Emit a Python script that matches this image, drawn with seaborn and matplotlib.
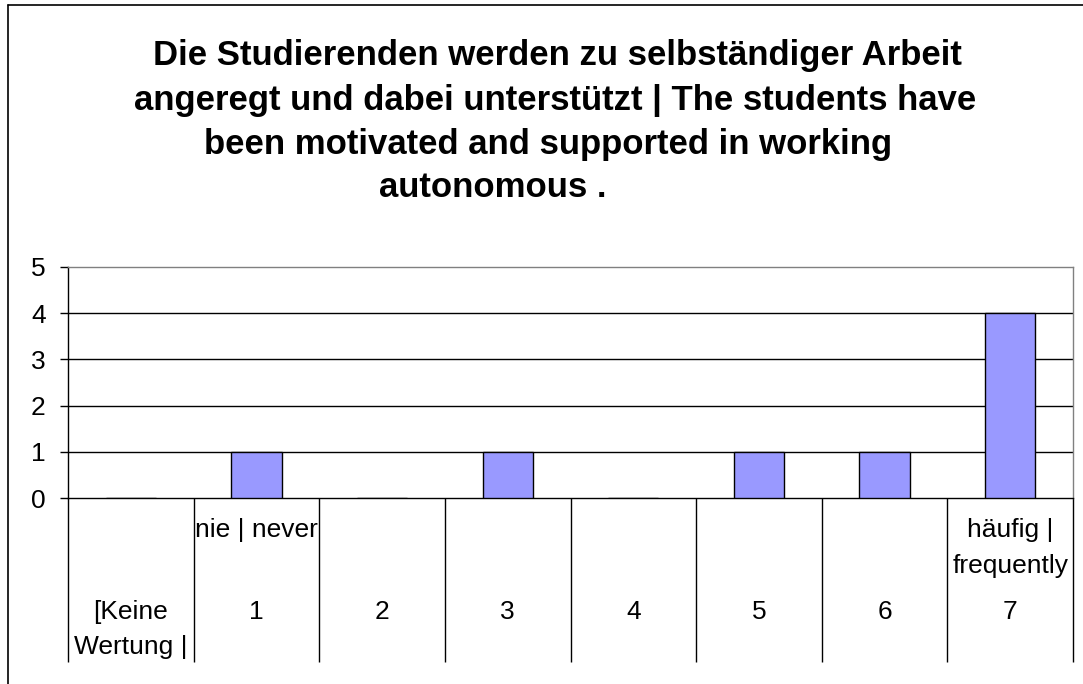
import matplotlib
matplotlib.use("Agg")
import matplotlib.pyplot as plt
import matplotlib.transforms as mtransforms
from matplotlib.lines import Line2D
import seaborn as sns

categories = ["[Keine Wertung |", "1", "2", "3", "4", "5", "6", "7"]
counts = [0, 1, 0, 1, 0, 1, 1, 4]
tick_texts = ["[Keine\nWertung |", "1", "2", "3", "4", "5", "6", "7"]
scale_notes = {1: "nie | never", 7: "häufig |\nfrequently"}
title_lines = ["Die Studierenden werden zu selbständiger Arbeit",
               "angeregt und dabei unterstützt | The students have",
               "been motivated and supported in working",
               "autonomous ."]

sns.set_style("white")
plt.rcParams['font.family'] = ['Liberation Sans', 'DejaVu Sans']
plt.rcParams['text.color'] = 'black'

W, H = 1083, 684
fig = plt.figure(figsize=(W / 100, H / 100), dpi=100)

# plot area in pixels: x 68..1073, y 267..498
ax = fig.add_axes([68 / W, 1 - 498 / H, (1073 - 68) / W, (498 - 267) / H])
sns.barplot(x=categories, y=counts, color='#9999FF', edgecolor='black',
            linewidth=1, width=0.4, saturation=1, ax=ax, zorder=3)

ax.set_ylim(0, 5)
ax.set_xlim(-0.5, len(categories) - 0.5)
ax.set_yticks(range(6))
for v in range(1, 5):
    ax.axhline(v, color='black', lw=1, zorder=1)
ax.tick_params(axis='y', labelsize=19, length=6, width=1, direction='out',
               left=True, pad=10, colors='black')
ax.set_xlabel('')
ax.set_ylabel('')

for side in ['left', 'bottom']:
    ax.spines[side].set_color('black')
    ax.spines[side].set_linewidth(1)
for side in ['top', 'right']:
    ax.spines[side].set_color('#808080')
    ax.spines[side].set_linewidth(1)

# category dividers as long minor ticks
ax.set_xticks([i - 0.5 for i in range(len(categories) + 1)], minor=True)
ax.set_xticks(range(len(categories)))
ax.set_xticklabels([])
ax.tick_params(axis='x', which='major', length=0)
ax.tick_params(axis='x', which='minor', length=164 * 0.72, width=1,
               color='black', direction='out', bottom=True)

trans = mtransforms.blended_transform_factory(ax.transData, fig.transFigure)
for i, t in enumerate(tick_texts):
    y = 629.5 if '\n' in t else 612
    ax.text(i, 1 - y / H, t, transform=trans, ha='center', va='center',
            fontsize=19, linespacing=1.6, clip_on=False, color='black')
for i, t in scale_notes.items():
    y = 548 if '\n' in t else 530
    ax.text(i, 1 - y / H, t, transform=trans, ha='center', va='center',
            fontsize=19, linespacing=1.6, clip_on=False, color='black')

# title, one line at a time
title_pos = [(557, 65), (555, 110), (548, 154), (493, 197)]
for line, (px, py) in zip(title_lines, title_pos):
    fig.text(px / W, 1 - py / H, line, ha='center', va='baseline',
             fontsize=25, fontweight='bold', color='black')

# outer chart frame (cut off at right and bottom)
fig.add_artist(Line2D([7.5 / W, 7.5 / W], [0, 1 - 5 / H], color='black', lw=1.2))
fig.add_artist(Line2D([7.5 / W, 1], [1 - 5 / H, 1 - 5 / H], color='black', lw=1.2))

fig.savefig('out.png', dpi=100, facecolor='white')
